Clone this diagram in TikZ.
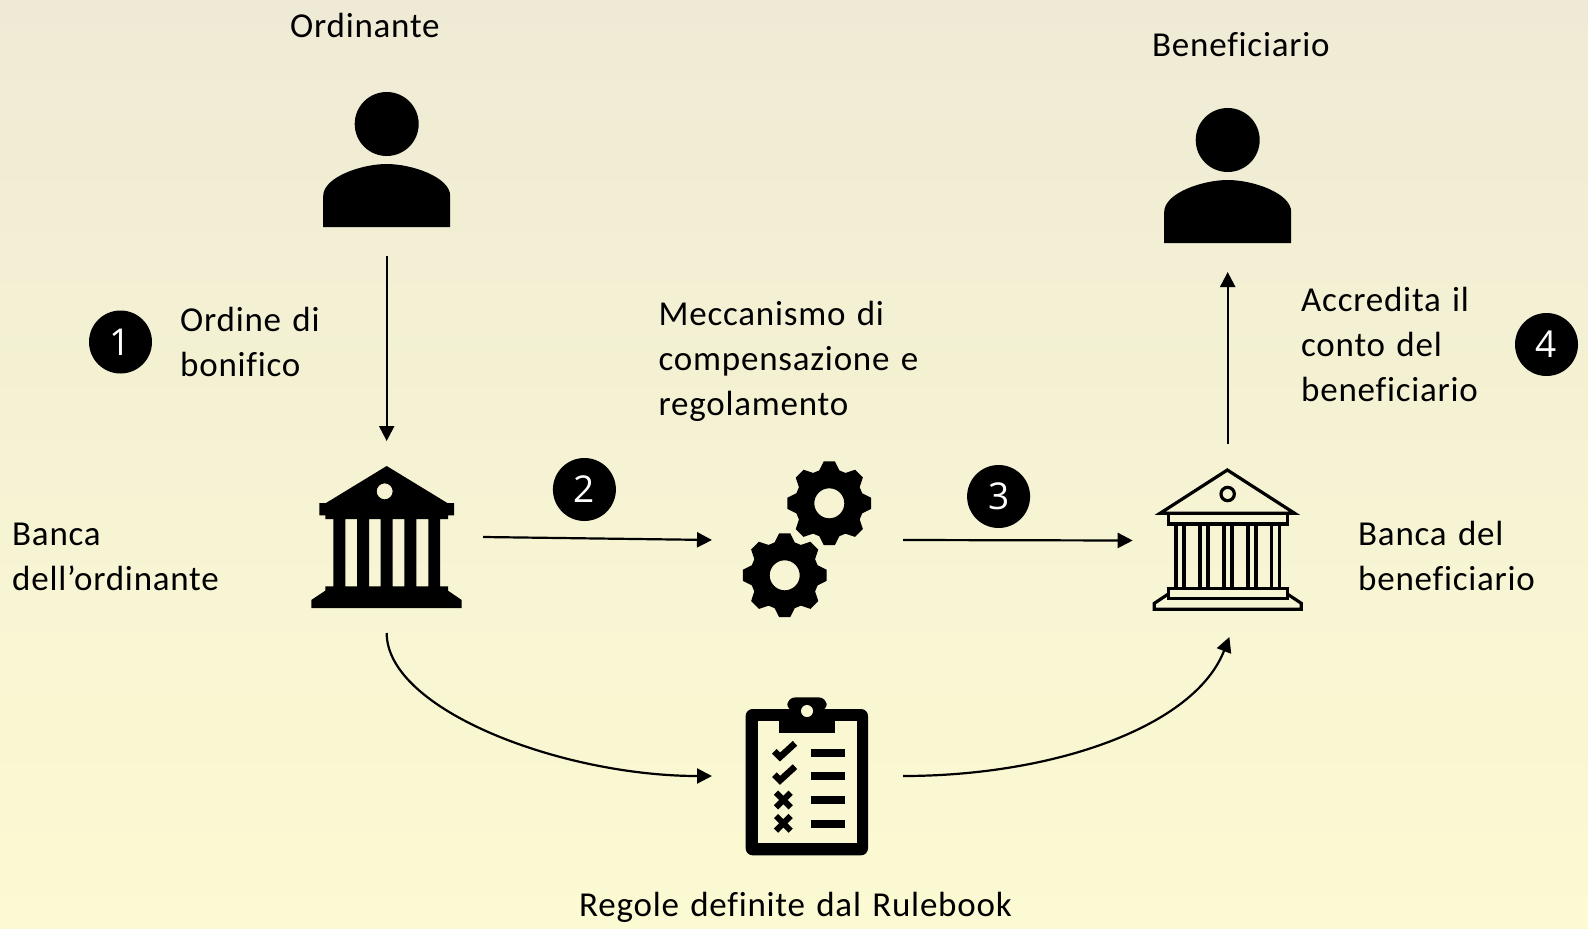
\documentclass[tikz,border=0pt]{standalone}
\usepackage{fontspec}
\setmainfont{Carlito}[LetterSpace=2.2,WordSpace=1.3,RawFeature={-liga}]
\newfontfamily\numfont{Open Sans}
\usetikzlibrary{arrows.meta}
\definecolor{bgtop}{HTML}{EFEAD5}
\definecolor{bgmid}{HTML}{F5F3D3}
\definecolor{bgbot}{HTML}{FCFAD2}
\tikzset{
  lbl/.style={font=\fontsize{35}{45}\selectfont,align=left,inner sep=0pt,anchor=north west,text=black},
  badge/.style={circle,fill=black,minimum size=63pt,inner sep=0pt,text=white,font=\numfont\fontsize{37}{37}\selectfont},
  iconbox/.style={inner sep=0pt,outer sep=0pt},
  conn/.style={line width=2.2pt,-{Triangle[length=15pt,width=15pt]}},
  person/.pic={
    \fill (0,-103) circle[radius=32];
    \fill (-63.5,0) -- (-63.5,-31) .. controls (-63.5,-50) and (-25,-63) .. (0,-63) .. controls (25,-63) and (63.5,-50) .. (63.5,-31) -- (63.5,0) -- cycle;
  },
  gear/.pic={
    \fill[even odd rule] (-17:34.4)
      \foreach \k in {0,45,...,315}{
        -- (\k-17:34.4) -- (\k-7.5:42.3) -- (\k+7.5:42.3) -- (\k+17:34.4)
      } -- cycle (0,0) circle[radius=15];
  }
}
\begin{document}
\begin{tikzpicture}[x=1pt,y=-1pt]
\useasboundingbox (0,0) rectangle (1588,929);
\shade[top color=bgtop,bottom color=bgbot,middle color=bgmid] (0,0) rectangle (1588,929);

% icon frames
\node[iconbox,minimum width=20pt,minimum height=164pt] (person1) at (386.7,174) {};
\node[iconbox,minimum width=20pt,minimum height=164pt] (person2) at (1227.7,190) {};
\node[iconbox,minimum width=193pt,minimum height=192pt] (bankA) at (386.7,537) {};
\node[iconbox,minimum width=191pt,minimum height=100pt] (gears) at (807.5,540) {};
\node[iconbox,minimum width=190pt,minimum height=193pt] (bankB) at (1227.7,540.5) {};
\node[iconbox,minimum width=191pt,minimum height=100pt] (clip) at (807.5,776) {};

% persons
\pic at (386.7,227) {person};
\pic at (1227.7,243) {person};

% bank A
\begin{scope}[shift={(290,440)},x=0.33333pt,y=-0.33333pt]
\fill[even odd rule] (290,78) -- (472,189) -- (492,189) -- (492,226) -- (474,226) -- (474,237) -- (450,237) -- (450,439) -- (474,439) -- (474,452) -- (515,480) -- (515,504) -- (64,504) -- (64,480) -- (106,452) -- (106,439) -- (130,439) -- (130,237) -- (106,237) -- (106,226) -- (88,226) -- (88,189) -- (108,189) -- cycle
  (166,237) rectangle (201,439) (237,237) rectangle (272,439) (308,237) rectangle (343,439) (379,237) rectangle (415,439)
  (284,154) circle[radius=24];
\end{scope}

% bank B
\begin{scope}[shift={(1130,450)},x=0.33333pt,y=-0.33333pt,line width=3.2pt,line join=miter]
\draw (292,60) -- (494,190) -- (90,190) -- cycle;
\draw (115,190) rectangle (472,222);
\foreach \c in {138,162,210,234,282,306,354,378,425,448} \draw (\c,222) -- (\c,415);
\draw (115,415) rectangle (472,445);
\draw (115,432) -- (73,460) -- (73,478) -- (514,478) -- (514,460) -- (472,432);
\draw (293,132) circle[radius=20];
\end{scope}

% gears
\pic at (829.3,503.3) {gear};
\pic at (784.7,575.3) {gear};

% clipboard
\begin{scope}[shift={(730,685)},x=0.33333pt,y=-0.33333pt]
\fill[rounded corners=7pt] (47,72) rectangle (414,511);
\fill[bgbot!70!bgmid] (83,107) rectangle (380,475);
\fill[rounded corners=8pt] (172,80) -- (172,37) -- (290,37) -- (290,80) -- cycle;
\fill (148,72) rectangle (315,143);
\fill[bgbot!70!bgmid] (231,78) circle[radius=18];
\foreach \y in {191,261,333,405} \fill (243,\y) rectangle (345,\y+24);
\draw[line width=6.5pt,miter limit=10] (133,199) -- (150,216) -- (195,175);
\draw[line width=6.5pt,miter limit=10] (133,269) -- (150,286) -- (195,245);
\draw[line width=6pt] (138,323) -- (182,367) (182,323) -- (138,367);
\draw[line width=6pt] (138,393) -- (182,437) (182,393) -- (138,437);
\end{scope}

% connectors
\draw[conn] (person1.south) -- (bankA.north);
\draw[conn] (bankA.east) -- (gears.west);
\draw[conn] (gears.east) -- (bankB.west);
\draw[conn] (bankB.north) -- (person2.south);
\draw[conn] (bankA.south) .. controls +(0,77) and +(-150,0) .. (clip.west);
\draw[conn] (clip.east) .. controls +(150,0) and +(-35,90) .. (bankB.-89);

% badges
\node[badge] (n1) at (120.5,342) {1};
\node[badge] (n2) at (584.4,489.5) {2};
\node[badge] (n3) at (998.6,496.5) {3};
\node[badge] (n4) at (1546.5,344.5) {4};

% labels
\node[lbl] (t1) at (290,13) {Ordinante};
\node[lbl] (t2) at (1152,32) {Beneficiario};
\node[lbl] (t3) at (180,307) {Ordine di\\bonifico};
\node[lbl] (t4) at (658.5,301) {Meccanismo di\\compensazione e\\regolamento};
\node[lbl] (t5) at (1301,287) {Accredita il\\conto del\\beneficiario};
\node[lbl] (t6) at (12,523) {Banca\\dell’ordinante};
\node[lbl] (t7) at (1358,521) {Banca del\\beneficiario};
\node[lbl] (t8) at (579,892) {Regole definite dal Rulebook};
\end{tikzpicture}
\end{document}
